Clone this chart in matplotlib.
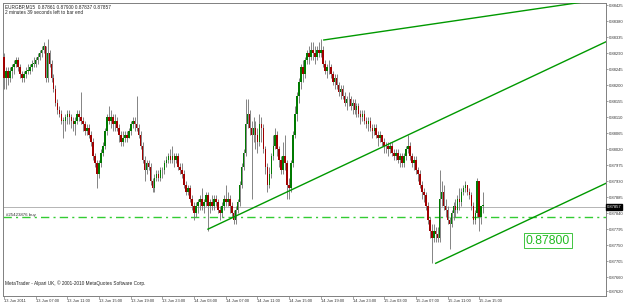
import numpy as np
import matplotlib.pyplot as plt

plt.rcParams['font.family'] = ['Liberation Sans', 'DejaVu Sans']

# EURGBP M15 bars, prices in pips (x 0.0001)
first_open = 8828
closes = [8822, 8824, 8822, 8824, 8825, 8826, 8827, 8825, 8823, 8822,
          8823, 8824, 8824, 8825, 8826, 8826, 8827, 8828, 8829, 8830,
          8831, 8822, 8829, 8826, 8822, 8819, 8815, 8813, 8812, 8810,
          8810, 8811, 8812, 8811, 8810, 8809, 8810, 8812, 8811, 8810,
          8809, 8807, 8808, 8806, 8804, 8800, 8798, 8795, 8798, 8801,
          8803, 8807, 8811, 8810, 8811, 8809, 8810, 8808, 8806, 8804,
          8805, 8806, 8805, 8807, 8809, 8810, 8809, 8808, 8806, 8803,
          8799, 8796, 8798, 8797, 8793, 8791, 8794, 8795, 8794, 8796,
          8796, 8798, 8799, 8800, 8799, 8800, 8799, 8800, 8797, 8796,
          8795, 8792, 8790, 8791, 8788, 8786, 8784, 8786, 8787, 8788,
          8786, 8787, 8789, 8786, 8787, 8786, 8788, 8787, 8785, 8784,
          8786, 8788, 8787, 8788, 8786, 8784, 8782, 8785, 8787, 8792,
          8797, 8801, 8809, 8812, 8808, 8806, 8808, 8806, 8804, 8809,
          8808, 8802, 8797, 8792, 8795, 8800, 8803, 8806, 8802, 8799,
          8796, 8800, 8798, 8792, 8791, 8798, 8806, 8812, 8817, 8821,
          8825, 8823, 8827, 8829, 8828, 8830, 8829, 8828, 8830, 8829,
          8830, 8826, 8824, 8825, 8825, 8823, 8821, 8822, 8820, 8818,
          8819, 8817, 8815, 8816, 8816, 8814, 8815, 8813, 8814, 8812,
          8811, 8812, 8810, 8809, 8810, 8808, 8807, 8808, 8806, 8805,
          8806, 8804, 8803, 8803, 8802, 8803, 8801, 8800, 8801, 8799,
          8800, 8798, 8800, 8802, 8803, 8800, 8798, 8799, 8796, 8795,
          8792, 8790, 8789, 8786, 8782, 8779, 8777, 8779, 8778, 8777,
          8788, 8790, 8786, 8785, 8782, 8781, 8784, 8786, 8785, 8788,
          8787, 8790, 8791, 8792, 8790, 8789, 8786, 8782, 8784, 8793,
          8783, 8786, 8786]
highs = [8829, 8825, 8825, 8825, 8826, 8827, 8828, 8828, 8826, 8824,
         8824, 8825, 8826, 8826, 8827, 8828, 8828, 8829, 8830, 8831,
         8832, 8831, 8833, 8830, 8827, 8823, 8820, 8816, 8814, 8813,
         8811, 8812, 8813, 8813, 8812, 8811, 8811, 8813, 8813, 8818,
         8811, 8810, 8809, 8809, 8807, 8805, 8801, 8799, 8799, 8802,
         8804, 8808, 8812, 8814, 8813, 8812, 8812, 8811, 8809, 8807,
         8807, 8807, 8807, 8808, 8810, 8811, 8811, 8817, 8809, 8807,
         8804, 8800, 8799, 8799, 8798, 8794, 8795, 8796, 8796, 8797,
         8797, 8799, 8800, 8801, 8802, 8803, 8801, 8801, 8801, 8798,
         8798, 8796, 8793, 8792, 8792, 8789, 8787, 8787, 8788, 8789,
         8791, 8788, 8790, 8790, 8788, 8789, 8789, 8789, 8788, 8786,
         8787, 8789, 8792, 8790, 8789, 8787, 8785, 8786, 8788, 8793,
         8798, 8802, 8816, 8816, 8813, 8810, 8811, 8810, 8808, 8812,
         8811, 8809, 8803, 8798, 8797, 8801, 8806, 8808, 8807, 8803,
         8800, 8804, 8806, 8799, 8794, 8799, 8807, 8814, 8818, 8822,
         8826, 8827, 8828, 8830, 8831, 8832, 8832, 8831, 8831, 8832,
         8833, 8831, 8827, 8826, 8827, 8826, 8824, 8823, 8823, 8821,
         8820, 8820, 8818, 8817, 8818, 8817, 8816, 8816, 8815, 8815,
         8813, 8813, 8813, 8811, 8811, 8811, 8809, 8809, 8809, 8807,
         8807, 8806, 8805, 8804, 8804, 8804, 8804, 8802, 8802, 8802,
         8801, 8801, 8801, 8803, 8806, 8804, 8801, 8800, 8800, 8797,
         8796, 8793, 8791, 8790, 8787, 8783, 8781, 8781, 8780, 8780,
         8796, 8793, 8792, 8788, 8786, 8783, 8785, 8787, 8788, 8789,
         8791, 8791, 8792, 8793, 8792, 8791, 8790, 8787, 8785, 8794,
         8793, 8786, 8790]
lows = [8819, 8819, 8820, 8821, 8822, 8823, 8825, 8824, 8822, 8821,
        8821, 8822, 8823, 8823, 8824, 8825, 8825, 8826, 8827, 8828,
        8829, 8821, 8821, 8825, 8821, 8818, 8814, 8812, 8811, 8809,
        8805, 8807, 8809, 8809, 8808, 8807, 8806, 8809, 8810, 8809,
        8807, 8806, 8806, 8805, 8803, 8799, 8797, 8791, 8794, 8797,
        8800, 8802, 8806, 8809, 8808, 8807, 8807, 8807, 8804, 8803,
        8803, 8804, 8804, 8805, 8806, 8808, 8807, 8807, 8805, 8802,
        8798, 8793, 8795, 8796, 8792, 8790, 8790, 8793, 8793, 8793,
        8794, 8795, 8797, 8798, 8798, 8798, 8797, 8798, 8796, 8795,
        8794, 8791, 8789, 8789, 8787, 8785, 8782, 8783, 8784, 8785,
        8785, 8784, 8786, 8779, 8784, 8785, 8785, 8786, 8784, 8782,
        8783, 8785, 8786, 8786, 8784, 8783, 8781, 8781, 8784, 8786,
        8791, 8796, 8800, 8808, 8806, 8788, 8804, 8802, 8801, 8803,
        8804, 8801, 8795, 8790, 8791, 8794, 8799, 8802, 8800, 8797,
        8795, 8795, 8796, 8788, 8788, 8790, 8797, 8805, 8810, 8815,
        8819, 8821, 8822, 8826, 8826, 8827, 8827, 8826, 8827, 8828,
        8828, 8825, 8823, 8822, 8823, 8822, 8820, 8819, 8819, 8817,
        8816, 8816, 8814, 8813, 8814, 8813, 8812, 8812, 8811, 8811,
        8809, 8810, 8809, 8808, 8807, 8807, 8805, 8806, 8805, 8803,
        8804, 8803, 8801, 8801, 8800, 8801, 8800, 8799, 8799, 8798,
        8797, 8797, 8797, 8799, 8801, 8799, 8797, 8796, 8795, 8793,
        8791, 8788, 8787, 8785, 8781, 8777, 8770, 8776, 8776, 8776,
        8776, 8786, 8785, 8783, 8781, 8774, 8780, 8782, 8783, 8784,
        8785, 8786, 8789, 8790, 8789, 8788, 8785, 8781, 8781, 8783,
        8779, 8781, 8784]

time_labels = ['13 Jun 2011', '13 Jun 07:00', '13 Jun 11:00', '13 Jun 15:00',
               '13 Jun 19:00', '13 Jun 23:00', '14 Jun 03:00', '14 Jun 07:00',
               '14 Jun 11:00', '14 Jun 15:00', '14 Jun 19:00', '14 Jun 23:00',
               '15 Jun 03:00', '15 Jun 07:00', '15 Jun 11:00', '15 Jun 15:00']
price_ticks = [0.88425, 0.88380, 0.88335, 0.88290, 0.88245, 0.88200, 0.88155,
               0.88110, 0.88065, 0.88020, 0.87975, 0.87930, 0.87885, 0.87840,
               0.87795, 0.87750, 0.87705, 0.87660, 0.87620]

bid = 0.87857
buy_price = 0.87830
text_price = 0.87762
# trend lines: (bar, price) anchors
trend_lines = [((103, 0.87795), (304, 0.88322)),
               ((218, 0.87699), (304, 0.87924)),
               ((161.5, 0.88327), (300, 0.88440))]

o = np.array([first_open] + closes[:-1]) / 1e4
c = np.array(closes) / 1e4
h = np.maximum(np.array(highs) / 1e4, np.maximum(o, c))
l = np.minimum(np.array(lows) / 1e4, np.minimum(o, c))
x = np.arange(len(c))

fig = plt.figure(figsize=(6.25, 3.04), dpi=100)
ax = fig.add_axes([3 / 625, 8 / 304, 603 / 625, 293 / 304])
ax.set_xlim(-0.5, 304)
ax.set_ylim(0.87607, 0.88431)

ax.vlines(x, l, h, color='#707070', lw=0.6, zorder=2)
up = c >= o
body = np.where(np.abs(c - o) < 0.00002, 0.00002, c - o)
ax.bar(x, body, bottom=o, width=0.8, color=np.where(up, '#007a00', '#a00000'),
       edgecolor='none', zorder=3)

ax.axhline(bid, color='#a8a8a8', lw=0.6, zorder=1)
ax.axhline(buy_price, color='#33cc33', lw=1.0, ls=(0, (6, 3, 1.5, 3)), zorder=1)
for (x0, y0), (x1, y1) in trend_lines:
    ax.plot([x0, x1], [y0, y1], color='#009900', lw=1.0, zorder=4)

ax.text(263.5, text_price, '0.87800', color='#22bb22', fontsize=8.8, va='center',
        ha='left', zorder=5,
        bbox=dict(boxstyle='square,pad=0.12', fc='white', ec='#22bb22', lw=0.6))

for s in ax.spines.values():
    s.set_color('#808080')
    s.set_linewidth(0.7)

ax.set_xticks(x[::16][:len(time_labels)])
ax.set_xticklabels(time_labels, ha='left')
ax.yaxis.tick_right()
ax.set_yticks(price_ticks)
ax.set_yticklabels(['%.5f' % p for p in price_ticks])
ax.tick_params(axis='x', length=2, width=0.5, pad=0.5, labelsize=2.9,
               colors='#808080', labelcolor='#333333')
ax.tick_params(axis='y', length=1.5, width=0.5, pad=0.5, labelsize=3.0,
               colors='#808080', labelcolor='#333333')

ax.text(0.004, 0.995, 'EURGBP,M15  0.87861 0.87900 0.87837 0.87857',
        transform=ax.transAxes, fontsize=3.4, va='top', color='#222222')
ax.text(0.004, 0.975, '2 minutes 39 seconds left to bar end',
        transform=ax.transAxes, fontsize=3.4, va='top', color='#222222')
ax.text(0.004, 0.035, 'MetaTrader - Alpari UK, \u00a9 2001-2010 MetaQuotes Software Corp.',
        transform=ax.transAxes, fontsize=3.4, va='bottom', color='#222222')
ax.text(1, buy_price, '#25423876 buy', fontsize=3.2, va='bottom', color='#333333')

ax.annotate('%.5f' % bid, xy=(1, bid), xycoords=('axes fraction', 'data'),
            xytext=(0.8, 0), textcoords='offset points', fontsize=3.0,
            va='center', ha='left', color='white', annotation_clip=False,
            bbox=dict(boxstyle='square,pad=0.15', fc='black', ec='black'))

fig.savefig('out.png', dpi=100)
